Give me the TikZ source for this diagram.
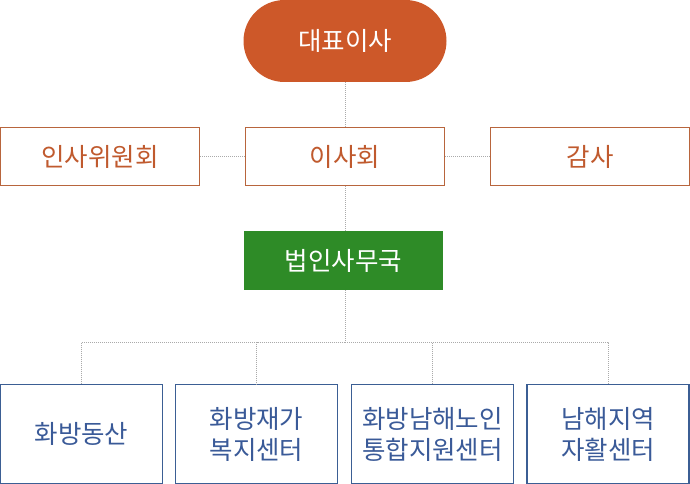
\documentclass[tikz,border=0pt]{standalone}
\usepackage{fontspec}
\setmainfont{Noto Sans CJK KR}
\definecolor{orfill}{HTML}{CD5829}
\definecolor{orline}{HTML}{B8653D}
\definecolor{ortext}{HTML}{C05A2E}
\definecolor{grfill}{HTML}{2E8B27}
\definecolor{blline}{HTML}{3B5E94}
\definecolor{bltext}{HTML}{3A5A98}
\definecolor{conn}{HTML}{AAAAAA}
\tikzset{
  pill/.style={fill=orfill, text=white, minimum width=203pt, minimum height=82pt, rounded corners=41pt, inner sep=0pt, font=\fontsize{25.5}{28}\selectfont},
  obox/.style={draw=orline, line width=1.2pt, fill=white, text=ortext, minimum width=199pt, minimum height=58pt, inner sep=0pt, font=\fontsize{25.5}{28}\selectfont},
  gbox/.style={fill=grfill, text=white, minimum width=199pt, minimum height=59pt, inner sep=0pt, font=\fontsize{25.5}{28}\selectfont},
  bbox/.style={draw=blline, line width=1.2pt, fill=white, text=bltext, minimum width=162pt, minimum height=99pt, inner sep=0pt, align=center, font=\fontsize{25.5}{31}\selectfont},
  dotline/.style={draw=conn, line width=0.9pt, dash pattern=on 1pt off 1pt}
}
\begin{document}
\begin{tikzpicture}[x=1pt,y=-1pt]
\useasboundingbox (0,0) rectangle (690,484);
\node[pill] (ceo) at (345,41) {대표이사};
\node[obox] (hr) at (100,156.5) {인사위원회};
\node[obox] (board) at (345,156.5) {이사회};
\node[obox] (audit) at (590,156.5) {감사};
\node[gbox] (office) at (343.5,260.5) {법인사무국};
\node[bbox] (b1) at (81.5,434) {화방동산};
\node[bbox] (b2) at (256.5,434) {화방재가\\복지센터};
\node[bbox] (b3) at (432.5,434) {화방남해노인\\통합지원센터};
\node[bbox] (b4) at (608,434) {남해지역\\자활센터};
\coordinate (bus) at (345,342);
\draw[dotline] (ceo.south) -- (board.north);
\draw[dotline] (hr.east) -- (board.west);
\draw[dotline] (board.east) -- (audit.west);
\draw[dotline] (board.south) -- (board.south |- office.north);
\draw[dotline] (office.south -| bus) -- (bus);
\draw[dotline] (bus) -| (b1.north);
\draw[dotline] (bus) -| (b2.north);
\draw[dotline] (bus) -| (b3.north);
\draw[dotline] (bus) -| (b4.north);
\end{tikzpicture}
\end{document}
